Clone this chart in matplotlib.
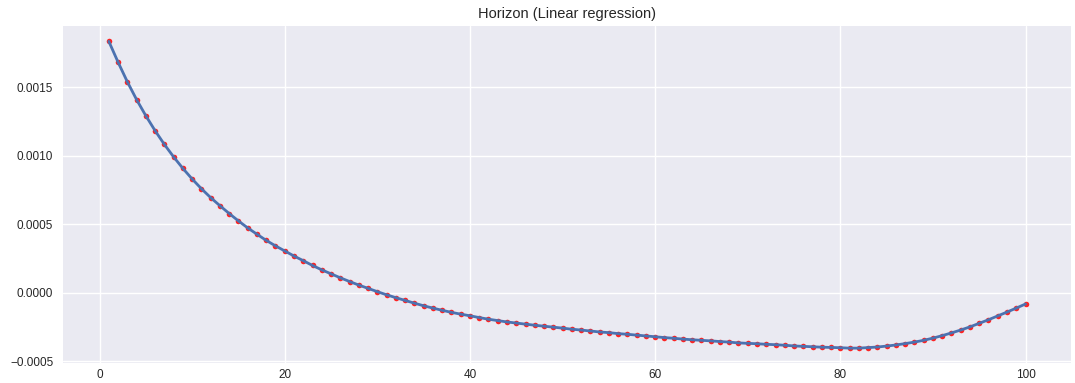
import numpy as np
import matplotlib
matplotlib.use('Agg')
import matplotlib.pyplot as plt

plt.style.use('seaborn-v0_8')

# horizon steps and the fitted coefficient at each step
horizon = np.arange(1, 101)
coef = [
    0.001835, 0.001683, 0.001540, 0.001410, 0.001292, 0.001183, 0.001083, 0.000992, 0.000908, 0.000831,
    0.000760, 0.000695, 0.000636, 0.000579, 0.000525, 0.000474, 0.000428, 0.000383, 0.000343, 0.000306,
    0.000269, 0.000235, 0.000200, 0.000168, 0.000139, 0.000110, 0.000083, 0.000057, 0.000033, 0.000009,
    -0.000014, -0.000035, -0.000055, -0.000075, -0.000094, -0.000111, -0.000127, -0.000142, -0.000155, -0.000167,
    -0.000180, -0.000192, -0.000202, -0.000212, -0.000220, -0.000228, -0.000236, -0.000243, -0.000250, -0.000257,
    -0.000265, -0.000271, -0.000278, -0.000285, -0.000290, -0.000297, -0.000302, -0.000308, -0.000314, -0.000320,
    -0.000326, -0.000331, -0.000337, -0.000342, -0.000346, -0.000350, -0.000355, -0.000359, -0.000365, -0.000368,
    -0.000371, -0.000375, -0.000378, -0.000382, -0.000387, -0.000390, -0.000393, -0.000396, -0.000398, -0.000400,
    -0.000403, -0.000403, -0.000399, -0.000395, -0.000388, -0.000380, -0.000370, -0.000359, -0.000346, -0.000330,
    -0.000312, -0.000292, -0.000271, -0.000248, -0.000222, -0.000196, -0.000168, -0.000140, -0.000111, -0.000081,
]

fig = plt.figure(figsize=(10.75, 3.83), dpi=100)
ax = fig.add_axes([0.0586, 0.051, 0.938, 0.881])
ax.plot(horizon, coef, 'o', color='red', markersize=4, alpha=0.85)
ax.plot(horizon, coef, color='#4C72B0', linewidth=2)
ax.set_title('Horizon (Linear regression)', fontsize=10.5)
ax.tick_params(labelsize=8.5)
ax.tick_params(axis='x', pad=4)

fig.savefig('out.png', dpi=100)
